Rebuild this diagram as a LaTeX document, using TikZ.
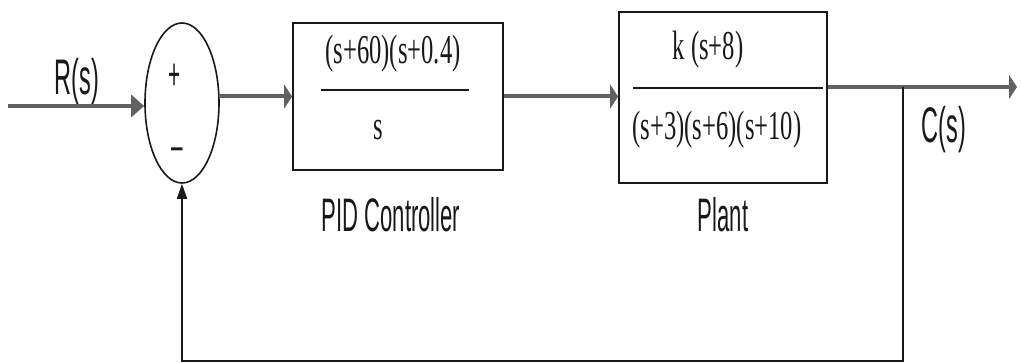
\documentclass[tikz,border=0pt]{standalone}
\usepackage{fontspec}
\usetikzlibrary{arrows.meta,shapes.geometric}
\newfontfamily\lblfont[FakeStretch=0.47]{Liberation Sans}
\newfontfamily\frfont[FakeStretch=0.6]{Liberation Serif}
\definecolor{fwd}{gray}{0.38}
\definecolor{ink}{gray}{0.1}
\tikzset{
  lbl/.style={text=ink, inner sep=0pt, font=\lblfont\fontsize{47}{47}\selectfont},
  biglbl/.style={text=ink, inner sep=0pt, font=\lblfont\fontsize{50}{50}\selectfont},
  signlbl/.style={text=ink, inner sep=0pt, font=\lblfont\fontsize{44}{44}\selectfont},
  frac/.style={text=ink, inner sep=0pt, font=\frfont\fontsize{41}{41}\selectfont},
  blk/.style={draw=ink, line width=1.8pt, rectangle, inner sep=0pt},
  sumnode/.style={draw=ink, line width=1.6pt, ellipse, inner sep=0pt, minimum width=74pt, minimum height=160pt},
  fwdline/.style={draw=fwd, line width=4pt},
  fbline/.style={draw=ink, line width=1.8pt},
  bigtip/.style={-{Triangle[length=13pt,width=22pt]}},
  barbtip/.style={-{Triangle[length=8pt,width=24pt]}},
  smalltip/.style={-{Triangle[length=15pt,width=10pt]}},
  fracline/.style={draw=ink, line width=1.6pt},
}
\begin{document}
\begin{tikzpicture}[x=1pt,y=-1pt]
\useasboundingbox (0,0) rectangle (1021,363);
% nodes
\node[sumnode] (sum) at (182,103) {};
\node[blk, minimum width=210pt, minimum height=147pt] (pid) at (398,96.5) {};
\node[blk, minimum width=208pt, minimum height=171pt] (plant) at (723,97.5) {};
% texts
\node[biglbl] (rs) at (77,82) {R(s)};
\node[biglbl] (cs) at (944,130) {C(s)};
\node[lbl] (pidl) at (391,215) {PID Controller};
\node[lbl] (plantl) at (723,215) {Plant};
\node[signlbl] (plus) at (175,77) {+};
\node[signlbl] (minus) at (177,154) {–};
\node[frac] (pidnum) at (393,54) {(s+60)(s+0.4)};
\node[frac] (pidden) at (378,130) {s};
\node[frac] (plnum) at (708,50) {k (s+8)};
\node[frac] (plden) at (717,130) {(s+3)(s+6)(s+10)};
% fraction bars
\coordinate (pb1) at (321,90);
\coordinate (pb2) at (469,90);
\coordinate (qb1) at (633,88);
\coordinate (qb2) at (823,88);
\draw[fracline] (pb1) -- (pb2);
\draw[fracline] (qb1) -- (qb2);
% connectors
\coordinate (in) at (8,106);
\coordinate (out) at (1017,87);
\coordinate (br) at (903,87);
\coordinate (fb1) at (903,361);
\coordinate (fb2) at (182,361);
\draw[fwdline, bigtip] (in) -- (in -| sum.west);
\draw[fwdline, barbtip] (sum.east |- pid.west) -- (pid.west);
\draw[fwdline, barbtip] (pid.east) -- (pid.east -| plant.west);
\draw[fwdline, barbtip] (plant.east |- out) -- (out);
\draw[fbline, smalltip] (br) -- (fb1) -- (fb2) -- (sum.south);
\end{tikzpicture}
\end{document}
